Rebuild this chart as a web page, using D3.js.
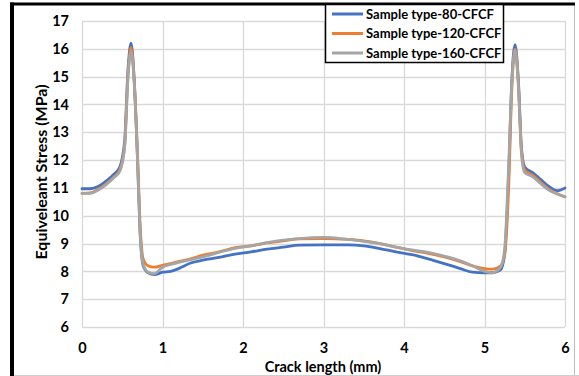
<!DOCTYPE html>
<html><head><meta charset="utf-8">
<script src="https://cdn.jsdelivr.net/npm/d3@7"></script>
<style>
html,body{margin:0;padding:0;background:#fff;}
text{font-family:Lato,"Open Sans",sans-serif;font-weight:bold;fill:#000;}
</style></head>
<body>
<svg id="c" width="579" height="376"></svg>
<script>
const xValues = [0, 0.1, 0.2, 0.3, 0.4, 0.47, 0.53, 0.57, 0.61, 0.65, 0.69, 0.72, 0.76, 0.82, 0.9, 1.0, 1.1, 1.2, 1.35, 1.5, 1.7, 1.9, 2.1, 2.3, 2.5, 2.7, 3.0, 3.3, 3.5, 3.7, 3.9, 4.1, 4.3, 4.5, 4.7, 4.85, 5.0, 5.1, 5.2, 5.25, 5.3, 5.34, 5.38, 5.42, 5.46, 5.5, 5.6, 5.7, 5.8, 5.9, 6.0];
const type80 = [10.97, 10.97, 11.05, 11.25, 11.5, 11.75, 12.7, 15.2, 16.2, 14.8, 12.0, 9.5, 8.2, 7.95, 7.88, 7.97, 8.0, 8.1, 8.3, 8.4, 8.5, 8.62, 8.7, 8.8, 8.87, 8.94, 8.95, 8.95, 8.92, 8.82, 8.7, 8.6, 8.45, 8.28, 8.1, 7.97, 7.95, 7.95, 8.05, 8.6, 11.5, 14.9, 16.15, 14.9, 12.4, 11.75, 11.55, 11.3, 11.05, 10.9, 11.0];
const type120 = [10.8, 10.82, 10.95, 11.15, 11.4, 11.65, 12.5, 15.0, 16.05, 14.8, 12.2, 9.8, 8.45, 8.2, 8.15, 8.22, 8.28, 8.35, 8.45, 8.58, 8.7, 8.85, 8.92, 9.02, 9.1, 9.17, 9.18, 9.15, 9.1, 9.0, 8.87, 8.75, 8.65, 8.52, 8.35, 8.2, 8.1, 8.08, 8.2, 8.6, 11.0, 14.6, 16.0, 14.8, 12.3, 11.65, 11.45, 11.2, 10.95, 10.8, 10.68];
const type160 = [10.8, 10.8, 10.92, 11.12, 11.38, 11.6, 12.5, 14.9, 15.9, 14.7, 12.0, 9.5, 8.25, 7.97, 7.92, 8.15, 8.25, 8.32, 8.42, 8.52, 8.68, 8.83, 8.92, 9.03, 9.12, 9.18, 9.22, 9.15, 9.08, 9.0, 8.87, 8.77, 8.68, 8.55, 8.38, 8.2, 8.0, 7.95, 8.15, 8.8, 11.8, 14.8, 15.95, 14.7, 12.2, 11.55, 11.4, 11.15, 10.92, 10.78, 10.68];
const seriesNames = ["Sample type-80-CFCF", "Sample type-120-CFCF", "Sample type-160-CFCF"];
const seriesColors = ["#4472C4", "#ED7D31", "#A5A5A5"];
const xTicks = [0, 1, 2, 3, 4, 5, 6];
const yTicks = [6, 7, 8, 9, 10, 11, 12, 13, 14, 15, 16, 17];
const xTitle = "Crack length (mm)";
const yTitle = "Equiveleant Stress (MPa)";

const svg = d3.select("#c");
const L = 82, R = 565, T = 21, B = 327;
const x = d3.scaleLinear().domain([0, 6]).range([L, R]);
const y = d3.scaleLinear().domain([6, 17]).range([B, T]);

// outer frame
svg.append("rect").attr("x", 0).attr("y", 0).attr("width", 579).attr("height", 376).attr("fill", "#fff");
svg.append("line").attr("x1", 574.5).attr("x2", 574.5).attr("y1", 4).attr("y2", 376).attr("stroke", "#bfbfbf").attr("stroke-width", 1);
svg.append("line").attr("x1", 10).attr("x2", 579).attr("y1", 375.5).attr("y2", 375.5).attr("stroke", "#d0d0d0").attr("stroke-width", 1);
svg.append("line").attr("x1", 10).attr("x2", 575).attr("y1", 4).attr("y2", 4).attr("stroke", "#000").attr("stroke-width", 3);
svg.append("line").attr("x1", 12).attr("x2", 12).attr("y1", 2.5).attr("y2", 376).attr("stroke", "#000").attr("stroke-width", 4);

// grid
const g = svg.append("g");
g.selectAll(".gy").data(yTicks).join("line")
  .attr("x1", L).attr("x2", R).attr("y1", d => Math.round(y(d)) + 0.5).attr("y2", d => Math.round(y(d)) + 0.5)
  .attr("stroke", "#d9d9d9").attr("stroke-width", 1.3);
g.selectAll(".gx").data(xTicks).join("line")
  .attr("y1", T).attr("y2", B).attr("x1", d => Math.round(x(d)) + 0.5).attr("x2", d => Math.round(x(d)) + 0.5)
  .attr("stroke", "#d9d9d9").attr("stroke-width", 1.3);

// axes labels via d3 axis
const yAxis = svg.append("g").attr("transform", `translate(${L},0)`)
  .call(d3.axisLeft(y).tickValues(yTicks).tickFormat(d3.format("d")).tickSize(0).tickPadding(13));
yAxis.select(".domain").remove();
yAxis.selectAll("text").style("font-size", "14.5px").style("font-family", "Lato").style("font-weight", "bold").attr("fill", "#000");
const xAxis = svg.append("g").attr("transform", `translate(0,${B})`)
  .call(d3.axisBottom(x).tickValues(xTicks).tickFormat(d3.format("d")).tickSize(0).tickPadding(16));
xAxis.select(".domain").remove();
xAxis.selectAll("text").style("font-size", "14.5px").style("font-family", "Lato").style("font-weight", "bold").attr("fill", "#000");

svg.append("text").attr("transform", "translate(47,172) rotate(-90)").attr("text-anchor", "middle")
  .style("font-size", "16px").text(yTitle);
svg.append("text").attr("x", 323).attr("y", 372).attr("text-anchor", "middle")
  .style("font-size", "14.5px").text(xTitle);

// lines
const allSeries = [type80, type120, type160];
const line = d3.line().x((d, i) => x(xValues[i])).y(d => y(d)).curve(d3.curveMonotoneX);
svg.append("g").selectAll("path").data(allSeries).join("path")
  .attr("d", d => line(d)).attr("fill", "none")
  .attr("stroke", (d, i) => seriesColors[i]).attr("stroke-width", 2.8)
  .attr("stroke-linejoin", "round").attr("stroke-linecap", "round");

// legend
const lg = svg.append("g");
lg.append("rect").attr("x", 325.5).attr("y", 4.5).attr("width", 178).attr("height", 58)
  .attr("fill", "#fff").attr("stroke", "#000").attr("stroke-width", 1.5);
seriesNames.forEach((n, i) => {
  const yy = 14 + i * 19.5;
  lg.append("line").attr("x1", 332).attr("x2", 363).attr("y1", yy).attr("y2", yy)
    .attr("stroke", seriesColors[i]).attr("stroke-width", 3);
  lg.append("text").attr("x", 366).attr("y", yy + 4.5).style("font-size", "13px").text(n);
});
</script>
</body></html>
